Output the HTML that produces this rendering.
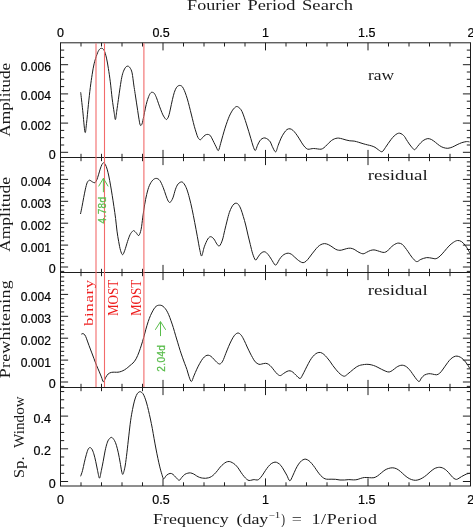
<!DOCTYPE html>
<html><head><meta charset="utf-8"><style>
html,body{margin:0;padding:0;background:#fff;}
svg{display:block;will-change:transform;}
.fr{stroke:#1e1e1e;stroke-width:1;fill:none;}
.tk{stroke:#1e1e1e;stroke-width:1;fill:none;}
.cv{stroke:#1c1c1c;stroke-width:1.0;fill:none;stroke-linejoin:round;}
.rl{stroke:#f26b6b;stroke-width:1.1;}
.num{font-family:"Liberation Sans",sans-serif;font-size:12.5px;fill:#000;stroke:#000;stroke-width:0.2px;}
.ser{font-family:"Liberation Serif",serif;}
.gnum{font-family:"Liberation Sans",sans-serif;stroke:#58bc4a;stroke-width:0.25px;}
.ga{stroke:#58bc4a;stroke-width:1.0;fill:none;}
</style></head><body>
<svg width="473" height="527" viewBox="0 0 473 527">
<line x1="60.50" y1="42.80" x2="60.50" y2="486.00" class="fr"/>
<line x1="470.50" y1="42.80" x2="470.50" y2="486.00" class="fr"/>
<line x1="60.00" y1="42.80" x2="471.00" y2="42.80" class="fr"/>
<line x1="60.00" y1="486.00" x2="471.00" y2="486.00" class="fr"/>
<line x1="60.50" y1="157.50" x2="470.50" y2="157.50" class="fr"/>
<line x1="60.50" y1="272.50" x2="470.50" y2="272.50" class="fr"/>
<line x1="60.50" y1="387.50" x2="470.50" y2="387.50" class="fr"/>
<path class="tk" d="M81.00,42.80v3.70 M81.00,157.50v-3.70 M101.50,42.80v3.70 M101.50,157.50v-3.70 M122.00,42.80v3.70 M122.00,157.50v-3.70 M142.50,42.80v3.70 M142.50,157.50v-3.70 M163.00,42.80v7.60 M163.00,157.50v-7.60 M183.50,42.80v3.70 M183.50,157.50v-3.70 M204.00,42.80v3.70 M204.00,157.50v-3.70 M224.50,42.80v3.70 M224.50,157.50v-3.70 M245.00,42.80v3.70 M245.00,157.50v-3.70 M265.50,42.80v7.60 M265.50,157.50v-7.60 M286.00,42.80v3.70 M286.00,157.50v-3.70 M306.50,42.80v3.70 M306.50,157.50v-3.70 M327.00,42.80v3.70 M327.00,157.50v-3.70 M347.50,42.80v3.70 M347.50,157.50v-3.70 M368.00,42.80v7.60 M368.00,157.50v-7.60 M388.50,42.80v3.70 M388.50,157.50v-3.70 M409.00,42.80v3.70 M409.00,157.50v-3.70 M429.50,42.80v3.70 M429.50,157.50v-3.70 M450.00,42.80v3.70 M450.00,157.50v-3.70 M81.00,157.50v3.70 M81.00,272.50v-3.70 M101.50,157.50v3.70 M101.50,272.50v-3.70 M122.00,157.50v3.70 M122.00,272.50v-3.70 M142.50,157.50v3.70 M142.50,272.50v-3.70 M163.00,157.50v7.60 M163.00,272.50v-7.60 M183.50,157.50v3.70 M183.50,272.50v-3.70 M204.00,157.50v3.70 M204.00,272.50v-3.70 M224.50,157.50v3.70 M224.50,272.50v-3.70 M245.00,157.50v3.70 M245.00,272.50v-3.70 M265.50,157.50v7.60 M265.50,272.50v-7.60 M286.00,157.50v3.70 M286.00,272.50v-3.70 M306.50,157.50v3.70 M306.50,272.50v-3.70 M327.00,157.50v3.70 M327.00,272.50v-3.70 M347.50,157.50v3.70 M347.50,272.50v-3.70 M368.00,157.50v7.60 M368.00,272.50v-7.60 M388.50,157.50v3.70 M388.50,272.50v-3.70 M409.00,157.50v3.70 M409.00,272.50v-3.70 M429.50,157.50v3.70 M429.50,272.50v-3.70 M450.00,157.50v3.70 M450.00,272.50v-3.70 M81.00,272.50v3.70 M81.00,387.50v-3.70 M101.50,272.50v3.70 M101.50,387.50v-3.70 M122.00,272.50v3.70 M122.00,387.50v-3.70 M142.50,272.50v3.70 M142.50,387.50v-3.70 M163.00,272.50v7.60 M163.00,387.50v-7.60 M183.50,272.50v3.70 M183.50,387.50v-3.70 M204.00,272.50v3.70 M204.00,387.50v-3.70 M224.50,272.50v3.70 M224.50,387.50v-3.70 M245.00,272.50v3.70 M245.00,387.50v-3.70 M265.50,272.50v7.60 M265.50,387.50v-7.60 M286.00,272.50v3.70 M286.00,387.50v-3.70 M306.50,272.50v3.70 M306.50,387.50v-3.70 M327.00,272.50v3.70 M327.00,387.50v-3.70 M347.50,272.50v3.70 M347.50,387.50v-3.70 M368.00,272.50v7.60 M368.00,387.50v-7.60 M388.50,272.50v3.70 M388.50,387.50v-3.70 M409.00,272.50v3.70 M409.00,387.50v-3.70 M429.50,272.50v3.70 M429.50,387.50v-3.70 M450.00,272.50v3.70 M450.00,387.50v-3.70 M81.00,387.50v3.70 M81.00,486.00v-3.70 M101.50,387.50v3.70 M101.50,486.00v-3.70 M122.00,387.50v3.70 M122.00,486.00v-3.70 M142.50,387.50v3.70 M142.50,486.00v-3.70 M163.00,387.50v7.60 M163.00,486.00v-7.60 M183.50,387.50v3.70 M183.50,486.00v-3.70 M204.00,387.50v3.70 M204.00,486.00v-3.70 M224.50,387.50v3.70 M224.50,486.00v-3.70 M245.00,387.50v3.70 M245.00,486.00v-3.70 M265.50,387.50v7.60 M265.50,486.00v-7.60 M286.00,387.50v3.70 M286.00,486.00v-3.70 M306.50,387.50v3.70 M306.50,486.00v-3.70 M327.00,387.50v3.70 M327.00,486.00v-3.70 M347.50,387.50v3.70 M347.50,486.00v-3.70 M368.00,387.50v7.60 M368.00,486.00v-7.60 M388.50,387.50v3.70 M388.50,486.00v-3.70 M409.00,387.50v3.70 M409.00,486.00v-3.70 M429.50,387.50v3.70 M429.50,486.00v-3.70 M450.00,387.50v3.70 M450.00,486.00v-3.70 M60.50,152.30h7.60 M470.50,152.30h-7.60 M60.50,145.00h3.70 M470.50,145.00h-3.70 M60.50,137.70h3.70 M470.50,137.70h-3.70 M60.50,130.40h3.70 M470.50,130.40h-3.70 M60.50,123.10h7.60 M470.50,123.10h-7.60 M60.50,115.80h3.70 M470.50,115.80h-3.70 M60.50,108.50h3.70 M470.50,108.50h-3.70 M60.50,101.20h3.70 M470.50,101.20h-3.70 M60.50,93.90h7.60 M470.50,93.90h-7.60 M60.50,86.60h3.70 M470.50,86.60h-3.70 M60.50,79.30h3.70 M470.50,79.30h-3.70 M60.50,72.00h3.70 M470.50,72.00h-3.70 M60.50,64.70h7.60 M470.50,64.70h-7.60 M60.50,57.40h3.70 M470.50,57.40h-3.70 M60.50,50.10h3.70 M470.50,50.10h-3.70 M60.50,271.38h3.70 M470.50,271.38h-3.70 M60.50,267.00h7.60 M470.50,267.00h-7.60 M60.50,262.62h3.70 M470.50,262.62h-3.70 M60.50,258.24h3.70 M470.50,258.24h-3.70 M60.50,253.86h3.70 M470.50,253.86h-3.70 M60.50,249.48h3.70 M470.50,249.48h-3.70 M60.50,245.10h7.60 M470.50,245.10h-7.60 M60.50,240.72h3.70 M470.50,240.72h-3.70 M60.50,236.34h3.70 M470.50,236.34h-3.70 M60.50,231.96h3.70 M470.50,231.96h-3.70 M60.50,227.58h3.70 M470.50,227.58h-3.70 M60.50,223.20h7.60 M470.50,223.20h-7.60 M60.50,218.82h3.70 M470.50,218.82h-3.70 M60.50,214.44h3.70 M470.50,214.44h-3.70 M60.50,210.06h3.70 M470.50,210.06h-3.70 M60.50,205.68h3.70 M470.50,205.68h-3.70 M60.50,201.30h7.60 M470.50,201.30h-7.60 M60.50,196.92h3.70 M470.50,196.92h-3.70 M60.50,192.54h3.70 M470.50,192.54h-3.70 M60.50,188.16h3.70 M470.50,188.16h-3.70 M60.50,183.78h3.70 M470.50,183.78h-3.70 M60.50,179.40h7.60 M470.50,179.40h-7.60 M60.50,175.02h3.70 M470.50,175.02h-3.70 M60.50,170.64h3.70 M470.50,170.64h-3.70 M60.50,166.26h3.70 M470.50,166.26h-3.70 M60.50,161.88h3.70 M470.50,161.88h-3.70 M60.50,386.38h3.70 M470.50,386.38h-3.70 M60.50,382.00h7.60 M470.50,382.00h-7.60 M60.50,377.62h3.70 M470.50,377.62h-3.70 M60.50,373.24h3.70 M470.50,373.24h-3.70 M60.50,368.86h3.70 M470.50,368.86h-3.70 M60.50,364.48h3.70 M470.50,364.48h-3.70 M60.50,360.10h7.60 M470.50,360.10h-7.60 M60.50,355.72h3.70 M470.50,355.72h-3.70 M60.50,351.34h3.70 M470.50,351.34h-3.70 M60.50,346.96h3.70 M470.50,346.96h-3.70 M60.50,342.58h3.70 M470.50,342.58h-3.70 M60.50,338.20h7.60 M470.50,338.20h-7.60 M60.50,333.82h3.70 M470.50,333.82h-3.70 M60.50,329.44h3.70 M470.50,329.44h-3.70 M60.50,325.06h3.70 M470.50,325.06h-3.70 M60.50,320.68h3.70 M470.50,320.68h-3.70 M60.50,316.30h7.60 M470.50,316.30h-7.60 M60.50,311.92h3.70 M470.50,311.92h-3.70 M60.50,307.54h3.70 M470.50,307.54h-3.70 M60.50,303.16h3.70 M470.50,303.16h-3.70 M60.50,298.78h3.70 M470.50,298.78h-3.70 M60.50,294.40h7.60 M470.50,294.40h-7.60 M60.50,290.02h3.70 M470.50,290.02h-3.70 M60.50,285.64h3.70 M470.50,285.64h-3.70 M60.50,281.26h3.70 M470.50,281.26h-3.70 M60.50,276.88h3.70 M470.50,276.88h-3.70 M60.50,481.50h7.60 M470.50,481.50h-7.60 M60.50,473.32h3.70 M470.50,473.32h-3.70 M60.50,465.15h3.70 M470.50,465.15h-3.70 M60.50,456.98h3.70 M470.50,456.98h-3.70 M60.50,448.80h7.60 M470.50,448.80h-7.60 M60.50,440.62h3.70 M470.50,440.62h-3.70 M60.50,432.45h3.70 M470.50,432.45h-3.70 M60.50,424.27h3.70 M470.50,424.27h-3.70 M60.50,416.10h7.60 M470.50,416.10h-7.60 M60.50,407.93h3.70 M470.50,407.93h-3.70 M60.50,399.75h3.70 M470.50,399.75h-3.70 M60.50,391.57h3.70 M470.50,391.57h-3.70"/>
<path class="cv" d="M80.70,92.30 C81.03,95.30 81.98,103.67 82.70,110.30 C83.42,116.93 84.37,129.88 85.00,132.10 C85.63,134.32 85.93,128.18 86.50,123.60 C87.07,119.02 87.77,110.62 88.40,104.60 C89.03,98.58 89.67,92.55 90.30,87.50 C90.93,82.45 91.57,78.25 92.20,74.30 C92.83,70.35 93.30,67.13 94.10,63.80 C94.90,60.47 96.13,56.67 97.00,54.30 C97.87,51.93 98.52,50.60 99.30,49.60 C100.08,48.60 100.88,48.15 101.70,48.30 C102.52,48.45 103.40,48.87 104.20,50.50 C105.00,52.13 105.80,55.08 106.50,58.10 C107.20,61.12 107.77,64.65 108.40,68.60 C109.03,72.55 109.67,76.75 110.30,81.80 C110.93,86.85 111.57,93.83 112.20,98.90 C112.83,103.97 113.57,108.75 114.10,112.20 C114.63,115.65 114.97,119.73 115.40,119.60 C115.83,119.47 116.20,114.77 116.70,111.40 C117.20,108.03 117.83,103.40 118.40,99.40 C118.97,95.40 119.53,91.10 120.10,87.40 C120.67,83.70 121.23,79.90 121.80,77.20 C122.37,74.50 122.87,72.85 123.50,71.20 C124.13,69.55 124.88,68.15 125.60,67.30 C126.32,66.45 127.07,66.02 127.80,66.10 C128.53,66.18 129.28,66.67 130.00,67.80 C130.72,68.93 131.47,70.03 132.10,72.90 C132.73,75.77 133.30,81.57 133.80,85.00 C134.30,88.43 134.67,90.65 135.10,93.50 C135.53,96.35 135.97,99.25 136.40,102.10 C136.83,104.95 137.27,107.75 137.70,110.60 C138.13,113.45 138.57,116.77 139.00,119.20 C139.43,121.63 139.80,124.42 140.30,125.20 C140.80,125.98 141.43,125.33 142.00,123.90 C142.57,122.47 143.13,119.23 143.70,116.60 C144.27,113.97 144.83,110.67 145.40,108.10 C145.97,105.53 146.47,103.33 147.10,101.20 C147.73,99.07 148.57,96.72 149.20,95.30 C149.83,93.88 150.37,93.20 150.90,92.70 C151.43,92.20 151.82,92.17 152.40,92.30 C152.98,92.43 153.72,92.58 154.40,93.50 C155.08,94.42 155.80,96.08 156.50,97.80 C157.20,99.52 157.88,101.80 158.60,103.80 C159.32,105.80 160.08,107.95 160.80,109.80 C161.52,111.65 162.13,113.40 162.90,114.90 C163.67,116.40 164.73,118.07 165.40,118.80 C166.07,119.53 166.35,119.77 166.90,119.30 C167.45,118.83 168.12,117.72 168.70,116.00 C169.28,114.28 169.78,111.72 170.40,109.00 C171.02,106.28 171.75,102.47 172.40,99.70 C173.05,96.93 173.65,94.38 174.30,92.40 C174.95,90.42 175.63,88.90 176.30,87.80 C176.97,86.70 177.63,86.18 178.30,85.80 C178.97,85.42 179.63,85.35 180.30,85.50 C180.97,85.65 181.63,85.88 182.30,86.70 C182.97,87.52 183.63,88.90 184.30,90.40 C184.97,91.90 185.63,93.70 186.30,95.70 C186.97,97.70 187.63,99.97 188.30,102.40 C188.97,104.83 189.63,107.65 190.30,110.30 C190.97,112.95 191.63,115.63 192.30,118.30 C192.97,120.97 193.63,123.87 194.30,126.30 C194.97,128.73 195.68,131.02 196.30,132.90 C196.92,134.78 197.33,136.45 198.00,137.60 C198.67,138.75 199.52,139.83 200.30,139.80 C201.08,139.77 201.88,138.18 202.70,137.40 C203.52,136.62 204.35,135.60 205.20,135.10 C206.05,134.60 206.92,134.27 207.80,134.40 C208.68,134.53 209.48,134.57 210.50,135.90 C211.52,137.23 212.97,140.58 213.90,142.40 C214.83,144.22 215.35,145.45 216.10,146.80 C216.85,148.15 217.63,151.08 218.40,150.50 C219.17,149.92 219.97,145.77 220.70,143.30 C221.43,140.83 222.08,138.22 222.80,135.70 C223.52,133.18 224.27,130.53 225.00,128.20 C225.73,125.87 226.48,123.70 227.20,121.70 C227.92,119.70 228.58,117.83 229.30,116.20 C230.02,114.57 230.77,113.15 231.50,111.90 C232.23,110.65 232.83,109.60 233.70,108.70 C234.57,107.80 235.68,106.57 236.70,106.50 C237.72,106.43 238.92,107.47 239.80,108.30 C240.68,109.13 241.27,110.02 242.00,111.50 C242.73,112.98 243.47,115.13 244.20,117.20 C244.93,119.27 245.65,121.55 246.40,123.90 C247.15,126.25 247.95,128.83 248.70,131.30 C249.45,133.77 250.17,136.23 250.90,138.70 C251.63,141.17 252.37,144.13 253.10,146.10 C253.83,148.07 254.57,150.63 255.30,150.50 C256.03,150.37 256.75,146.90 257.50,145.30 C258.25,143.70 259.05,142.00 259.80,140.90 C260.55,139.80 261.15,139.20 262.00,138.70 C262.85,138.20 263.92,137.78 264.90,137.90 C265.88,138.02 266.98,138.72 267.90,139.40 C268.82,140.08 269.68,140.85 270.40,142.00 C271.12,143.15 271.33,144.65 272.20,146.30 C273.07,147.95 274.62,152.03 275.60,151.90 C276.58,151.77 277.18,147.80 278.10,145.50 C279.02,143.20 280.10,140.20 281.10,138.10 C282.10,136.00 283.12,134.33 284.10,132.90 C285.08,131.47 286.02,130.18 287.00,129.50 C287.98,128.82 289.02,128.67 290.00,128.80 C290.98,128.93 291.92,129.48 292.90,130.30 C293.88,131.12 294.90,132.40 295.90,133.70 C296.90,135.00 297.92,136.57 298.90,138.10 C299.88,139.63 300.82,141.42 301.80,142.90 C302.78,144.38 303.82,145.95 304.80,147.00 C305.78,148.05 306.72,148.88 307.70,149.20 C308.68,149.52 309.70,149.02 310.70,148.90 C311.70,148.78 312.58,148.50 313.70,148.50 C314.82,148.50 316.17,148.78 317.40,148.90 C318.63,149.02 320.00,149.40 321.10,149.20 C322.20,149.00 323.02,148.43 324.00,147.70 C324.98,146.97 326.00,145.78 327.00,144.80 C328.00,143.82 329.02,142.67 330.00,141.80 C330.98,140.93 331.92,140.17 332.90,139.60 C333.88,139.03 334.93,138.65 335.90,138.40 C336.87,138.15 337.62,138.02 338.70,138.10 C339.78,138.18 341.17,138.58 342.40,138.90 C343.63,139.22 344.87,139.68 346.10,140.00 C347.33,140.32 348.45,140.62 349.80,140.80 C351.15,140.98 352.72,140.85 354.20,141.10 C355.68,141.35 357.22,141.87 358.70,142.30 C360.18,142.73 361.62,143.27 363.10,143.70 C364.58,144.13 366.23,144.55 367.60,144.90 C368.97,145.25 370.07,145.40 371.30,145.80 C372.53,146.20 373.77,146.60 375.00,147.30 C376.23,148.00 377.52,149.27 378.70,150.00 C379.88,150.73 381.00,152.08 382.10,151.70 C383.20,151.32 384.27,149.10 385.30,147.70 C386.33,146.30 387.32,144.70 388.30,143.30 C389.28,141.90 390.22,140.53 391.20,139.30 C392.18,138.07 393.20,136.83 394.20,135.90 C395.20,134.97 396.28,134.15 397.20,133.70 C398.12,133.25 398.85,133.08 399.70,133.20 C400.55,133.32 401.48,133.83 402.30,134.40 C403.12,134.97 403.95,135.78 404.60,136.60 C405.25,137.42 405.42,138.07 406.20,139.30 C406.98,140.53 408.28,142.58 409.30,144.00 C410.32,145.42 411.40,146.85 412.30,147.80 C413.20,148.75 413.80,149.95 414.70,149.70 C415.60,149.45 416.68,147.47 417.70,146.30 C418.72,145.13 419.77,143.73 420.80,142.70 C421.83,141.67 422.73,140.78 423.90,140.10 C425.07,139.42 426.52,138.68 427.80,138.60 C429.08,138.52 430.32,138.97 431.60,139.60 C432.88,140.23 434.20,141.42 435.50,142.40 C436.80,143.38 438.12,144.65 439.40,145.50 C440.68,146.35 441.80,147.03 443.20,147.50 C444.60,147.97 446.25,148.38 447.80,148.30 C449.35,148.22 450.95,147.60 452.50,147.00 C454.05,146.40 455.57,145.42 457.10,144.70 C458.63,143.98 460.15,143.22 461.70,142.70 C463.25,142.18 465.10,141.73 466.40,141.60 C467.70,141.47 468.98,141.85 469.50,141.90"/>
<path class="cv" d="M80.50,214.00 C80.75,212.78 81.47,209.43 82.00,206.70 C82.53,203.97 83.13,200.53 83.70,197.60 C84.27,194.67 84.83,191.57 85.40,189.10 C85.97,186.63 86.53,184.23 87.10,182.80 C87.67,181.37 88.32,180.92 88.80,180.50 C89.28,180.08 89.52,180.15 90.00,180.30 C90.48,180.45 91.13,181.05 91.70,181.40 C92.27,181.75 92.83,182.20 93.40,182.40 C93.97,182.60 94.53,183.02 95.10,182.60 C95.67,182.18 96.23,181.20 96.80,179.90 C97.37,178.60 97.93,176.60 98.50,174.80 C99.07,173.00 99.63,170.80 100.20,169.10 C100.77,167.40 101.33,165.65 101.90,164.60 C102.47,163.55 103.02,162.80 103.60,162.80 C104.18,162.80 104.82,163.55 105.40,164.60 C105.98,165.65 106.53,167.20 107.10,169.10 C107.67,171.00 108.23,173.33 108.80,176.00 C109.37,178.67 109.93,181.88 110.50,185.10 C111.07,188.32 111.63,191.73 112.20,195.30 C112.77,198.87 113.33,202.63 113.90,206.50 C114.47,210.37 115.08,214.40 115.60,218.50 C116.12,222.60 116.48,227.25 117.00,231.10 C117.52,234.95 118.12,238.40 118.70,241.60 C119.28,244.80 119.85,248.12 120.50,250.30 C121.15,252.48 121.88,254.70 122.60,254.70 C123.32,254.70 123.98,252.48 124.80,250.30 C125.62,248.12 126.62,244.22 127.50,241.60 C128.38,238.98 129.23,236.35 130.10,234.60 C130.97,232.85 132.03,231.73 132.70,231.10 C133.37,230.47 133.52,230.52 134.10,230.80 C134.68,231.08 135.42,232.02 136.20,232.80 C136.98,233.58 137.98,236.07 138.80,235.50 C139.62,234.93 140.43,232.47 141.10,229.40 C141.77,226.33 142.22,221.18 142.80,217.10 C143.38,213.02 143.95,208.68 144.60,204.90 C145.25,201.12 145.92,197.60 146.70,194.40 C147.48,191.20 148.28,188.08 149.30,185.70 C150.32,183.32 151.63,181.32 152.80,180.10 C153.97,178.88 155.13,178.33 156.30,178.40 C157.47,178.47 158.65,178.98 159.80,180.50 C160.95,182.02 162.18,185.03 163.20,187.50 C164.22,189.97 165.07,193.05 165.90,195.30 C166.73,197.55 167.48,199.83 168.20,201.00 C168.92,202.17 169.42,202.82 170.20,202.30 C170.98,201.78 172.02,200.08 172.90,197.90 C173.78,195.72 174.63,191.52 175.50,189.20 C176.37,186.88 177.08,185.22 178.10,184.00 C179.12,182.78 180.58,181.90 181.60,181.90 C182.62,181.90 183.33,182.78 184.20,184.00 C185.07,185.22 185.93,186.88 186.80,189.20 C187.67,191.52 188.52,194.55 189.40,197.90 C190.28,201.25 191.22,205.22 192.10,209.30 C192.98,213.38 193.83,217.90 194.70,222.40 C195.57,226.90 196.43,231.65 197.30,236.30 C198.17,240.95 199.17,247.03 199.90,250.30 C200.63,253.57 200.97,256.48 201.70,255.90 C202.43,255.32 203.28,249.62 204.30,246.80 C205.32,243.98 206.73,240.68 207.80,239.00 C208.87,237.32 209.68,236.70 210.70,236.70 C211.72,236.70 212.85,237.75 213.90,239.00 C214.95,240.25 216.07,243.05 217.00,244.20 C217.93,245.35 218.60,246.60 219.50,245.90 C220.40,245.20 221.53,242.57 222.40,240.00 C223.27,237.43 223.93,233.65 224.70,230.50 C225.47,227.35 226.23,224.08 227.00,221.10 C227.77,218.12 228.52,214.93 229.30,212.60 C230.08,210.27 230.92,208.53 231.70,207.10 C232.48,205.67 233.23,204.65 234.00,204.00 C234.77,203.35 235.52,203.07 236.30,203.20 C237.08,203.33 237.92,203.77 238.70,204.80 C239.48,205.83 240.23,207.45 241.00,209.40 C241.77,211.35 242.52,213.90 243.30,216.50 C244.08,219.10 244.92,221.90 245.70,225.00 C246.48,228.10 247.23,231.85 248.00,235.10 C248.77,238.35 249.52,241.38 250.30,244.50 C251.08,247.62 251.83,251.22 252.70,253.80 C253.57,256.38 254.60,259.48 255.50,260.00 C256.40,260.52 257.15,258.07 258.10,256.90 C259.05,255.73 260.08,253.85 261.20,253.00 C262.32,252.15 263.63,251.53 264.80,251.80 C265.97,252.07 267.12,253.37 268.20,254.60 C269.28,255.83 270.13,257.47 271.30,259.20 C272.47,260.93 274.18,264.35 275.20,265.00 C276.22,265.65 276.70,264.03 277.40,263.10 C278.10,262.17 278.57,260.63 279.40,259.40 C280.23,258.17 281.40,256.63 282.40,255.70 C283.40,254.77 284.42,254.22 285.40,253.80 C286.38,253.38 287.32,253.13 288.30,253.20 C289.28,253.27 290.32,253.62 291.30,254.20 C292.28,254.78 293.22,255.83 294.20,256.70 C295.18,257.57 296.20,258.58 297.20,259.40 C298.20,260.22 299.22,261.05 300.20,261.60 C301.18,262.15 302.12,262.77 303.10,262.70 C304.08,262.63 305.12,262.00 306.10,261.20 C307.08,260.40 308.02,259.12 309.00,257.90 C309.98,256.68 311.00,255.20 312.00,253.90 C313.00,252.60 314.02,251.28 315.00,250.10 C315.98,248.92 316.92,247.72 317.90,246.80 C318.88,245.88 319.78,245.13 320.90,244.60 C322.02,244.07 323.37,243.60 324.60,243.60 C325.83,243.60 327.07,244.07 328.30,244.60 C329.53,245.13 330.77,246.02 332.00,246.80 C333.23,247.58 334.60,248.73 335.70,249.30 C336.80,249.87 337.62,250.07 338.60,250.20 C339.58,250.33 340.25,250.37 341.60,250.10 C342.95,249.83 345.23,248.92 346.70,248.60 C348.17,248.28 349.17,248.08 350.40,248.20 C351.63,248.32 352.87,248.72 354.10,249.30 C355.33,249.88 356.33,250.95 357.80,251.70 C359.27,252.45 361.43,253.70 362.90,253.80 C364.37,253.90 365.37,252.85 366.60,252.30 C367.83,251.75 369.07,250.90 370.30,250.50 C371.53,250.10 372.77,249.85 374.00,249.90 C375.23,249.95 376.47,250.45 377.70,250.80 C378.93,251.15 380.28,251.73 381.40,252.00 C382.52,252.27 383.40,252.57 384.40,252.40 C385.40,252.23 386.42,251.75 387.40,251.00 C388.38,250.25 389.32,248.85 390.30,247.90 C391.28,246.95 392.32,246.02 393.30,245.30 C394.28,244.58 395.27,243.97 396.20,243.60 C397.13,243.23 397.90,242.98 398.90,243.10 C399.90,243.22 401.17,243.55 402.20,244.30 C403.23,245.05 404.12,246.37 405.10,247.60 C406.08,248.83 406.97,250.10 408.10,251.70 C409.23,253.30 410.48,255.55 411.90,257.20 C413.32,258.85 415.12,261.23 416.60,261.60 C418.08,261.97 419.12,260.07 420.80,259.40 C422.48,258.73 424.85,257.80 426.70,257.60 C428.55,257.40 430.37,258.02 431.90,258.20 C433.43,258.38 434.55,259.05 435.90,258.70 C437.25,258.35 438.58,257.33 440.00,256.10 C441.42,254.87 442.92,252.97 444.40,251.30 C445.88,249.63 447.42,247.58 448.90,246.10 C450.38,244.62 451.87,243.33 453.30,242.40 C454.73,241.47 456.13,240.63 457.50,240.50 C458.87,240.37 460.22,240.80 461.50,241.60 C462.78,242.40 464.10,243.93 465.20,245.30 C466.30,246.67 467.32,248.48 468.10,249.80 C468.88,251.12 469.60,252.63 469.90,253.20"/>
<path class="cv" d="M81.30,334.20 C81.57,334.10 82.30,333.47 82.90,333.60 C83.50,333.73 84.28,334.13 84.90,335.00 C85.52,335.87 85.92,337.05 86.60,338.80 C87.28,340.55 88.18,343.28 89.00,345.50 C89.82,347.72 90.67,349.90 91.50,352.10 C92.33,354.30 93.17,356.50 94.00,358.70 C94.83,360.90 95.67,363.23 96.50,365.30 C97.33,367.37 98.18,369.17 99.00,371.10 C99.82,373.03 100.67,375.12 101.40,376.90 C102.13,378.68 102.70,381.67 103.40,381.80 C104.10,381.93 104.82,379.00 105.60,377.70 C106.38,376.40 107.13,374.88 108.10,374.00 C109.07,373.12 110.30,372.70 111.40,372.40 C112.50,372.10 113.60,372.23 114.70,372.20 C115.80,372.17 116.90,372.33 118.00,372.20 C119.10,372.07 120.20,371.80 121.30,371.40 C122.40,371.00 123.50,370.47 124.60,369.80 C125.70,369.13 127.00,368.12 127.90,367.40 C128.80,366.68 129.15,366.23 130.00,365.50 C130.85,364.77 131.98,364.12 133.00,363.00 C134.02,361.88 135.08,360.65 136.10,358.80 C137.12,356.95 138.22,354.18 139.10,351.90 C139.98,349.62 140.63,347.50 141.40,345.10 C142.17,342.70 142.95,340.15 143.70,337.50 C144.45,334.85 145.15,331.85 145.90,329.20 C146.65,326.55 147.43,323.88 148.20,321.60 C148.97,319.32 149.73,317.28 150.50,315.50 C151.27,313.72 152.05,312.25 152.80,310.90 C153.55,309.55 154.25,308.28 155.00,307.40 C155.75,306.52 156.53,305.97 157.30,305.60 C158.07,305.23 158.83,305.20 159.60,305.20 C160.37,305.20 161.13,305.23 161.90,305.60 C162.67,305.97 163.45,306.63 164.20,307.40 C164.95,308.17 165.65,308.98 166.40,310.20 C167.15,311.42 167.93,312.93 168.70,314.70 C169.47,316.47 170.23,318.65 171.00,320.80 C171.77,322.95 172.55,325.20 173.30,327.60 C174.05,330.00 174.75,332.67 175.50,335.20 C176.25,337.73 177.03,340.27 177.80,342.80 C178.57,345.33 179.33,348.00 180.10,350.40 C180.87,352.80 181.65,355.05 182.40,357.20 C183.15,359.35 183.85,361.27 184.60,363.30 C185.35,365.33 186.17,367.20 186.90,369.40 C187.63,371.60 188.25,374.48 189.00,376.50 C189.75,378.52 190.58,381.60 191.40,381.50 C192.22,381.40 193.00,377.95 193.90,375.90 C194.80,373.85 195.82,371.30 196.80,369.20 C197.78,367.10 198.80,365.07 199.80,363.30 C200.80,361.53 201.82,359.83 202.80,358.60 C203.78,357.37 204.80,356.47 205.70,355.90 C206.60,355.33 207.33,355.13 208.20,355.20 C209.07,355.27 209.95,355.63 210.90,356.30 C211.85,356.97 212.92,358.20 213.90,359.20 C214.88,360.20 215.82,361.50 216.80,362.30 C217.78,363.10 218.82,364.20 219.80,364.00 C220.78,363.80 221.72,362.82 222.70,361.10 C223.68,359.38 224.70,356.17 225.70,353.70 C226.70,351.23 227.72,348.57 228.70,346.30 C229.68,344.03 230.62,341.95 231.60,340.10 C232.58,338.25 233.53,336.38 234.60,335.20 C235.67,334.02 236.90,333.00 238.00,333.00 C239.10,333.00 240.17,333.97 241.20,335.20 C242.23,336.43 243.20,338.43 244.20,340.40 C245.20,342.37 246.22,344.90 247.20,347.00 C248.18,349.10 249.22,351.25 250.10,353.00 C250.98,354.75 251.65,356.03 252.50,357.50 C253.35,358.97 254.13,360.67 255.20,361.80 C256.27,362.93 257.80,363.93 258.90,364.30 C260.00,364.67 260.70,364.17 261.80,364.00 C262.90,363.83 264.38,363.25 265.50,363.30 C266.62,363.35 267.50,363.68 268.50,364.30 C269.50,364.92 270.52,365.93 271.50,367.00 C272.48,368.07 273.42,369.52 274.40,370.70 C275.38,371.88 276.42,373.28 277.40,374.10 C278.38,374.92 279.32,375.67 280.30,375.60 C281.28,375.53 282.18,374.40 283.30,373.70 C284.42,373.00 285.88,371.88 287.00,371.40 C288.12,370.92 289.02,370.67 290.00,370.80 C290.98,370.93 291.92,371.48 292.90,372.20 C293.88,372.92 294.72,374.05 295.90,375.10 C297.08,376.15 298.90,378.50 300.00,378.50 C301.10,378.50 301.58,376.65 302.50,375.10 C303.42,373.55 304.50,371.17 305.50,369.20 C306.50,367.23 307.52,365.10 308.50,363.30 C309.48,361.50 310.42,359.80 311.40,358.40 C312.38,357.00 313.42,355.82 314.40,354.90 C315.38,353.98 316.27,353.30 317.30,352.90 C318.33,352.50 319.50,352.25 320.60,352.50 C321.70,352.75 322.87,353.58 323.90,354.40 C324.93,355.22 325.82,356.28 326.80,357.40 C327.78,358.52 328.80,359.75 329.80,361.10 C330.80,362.45 331.82,364.15 332.80,365.50 C333.78,366.85 334.72,368.02 335.70,369.20 C336.68,370.38 337.72,371.62 338.70,372.60 C339.68,373.58 340.62,374.50 341.60,375.10 C342.58,375.70 343.60,376.37 344.60,376.20 C345.60,376.03 346.62,374.85 347.60,374.10 C348.58,373.35 349.52,372.52 350.50,371.70 C351.48,370.88 352.52,369.98 353.50,369.20 C354.48,368.42 355.42,367.62 356.40,367.00 C357.38,366.38 358.40,365.87 359.40,365.50 C360.40,365.13 361.17,365.00 362.40,364.80 C363.63,364.60 365.33,364.30 366.80,364.30 C368.27,364.30 369.72,364.47 371.20,364.80 C372.68,365.13 374.23,365.68 375.70,366.30 C377.17,366.92 378.78,367.88 380.00,368.50 C381.22,369.12 382.02,369.53 383.00,370.00 C383.98,370.47 384.87,370.97 385.90,371.30 C386.93,371.63 388.08,372.17 389.20,372.00 C390.32,371.83 391.42,371.07 392.60,370.30 C393.78,369.53 395.20,368.15 396.30,367.40 C397.40,366.65 398.22,366.17 399.20,365.80 C400.18,365.43 401.20,365.17 402.20,365.20 C403.20,365.23 404.22,365.50 405.20,366.00 C406.18,366.50 407.12,367.25 408.10,368.20 C409.08,369.15 410.12,370.42 411.10,371.70 C412.08,372.98 412.72,374.27 414.00,375.90 C415.28,377.53 417.57,381.13 418.80,381.50 C420.03,381.87 420.47,379.17 421.40,378.10 C422.33,377.03 423.17,375.83 424.40,375.10 C425.63,374.37 427.45,373.87 428.80,373.70 C430.15,373.53 431.20,373.92 432.50,374.10 C433.80,374.28 435.40,374.95 436.60,374.80 C437.80,374.65 438.73,374.00 439.70,373.20 C440.67,372.40 441.50,371.17 442.40,370.00 C443.30,368.83 444.20,367.47 445.10,366.20 C446.00,364.93 446.90,363.57 447.80,362.40 C448.70,361.23 449.50,360.13 450.50,359.20 C451.50,358.27 452.72,357.32 453.80,356.80 C454.88,356.28 455.92,356.03 457.00,356.10 C458.08,356.17 459.30,356.68 460.30,357.20 C461.30,357.72 462.10,358.37 463.00,359.20 C463.90,360.03 464.90,361.22 465.70,362.20 C466.50,363.18 467.12,364.07 467.80,365.10 C468.48,366.13 469.47,367.85 469.80,368.40"/>
<path class="cv" d="M80.60,476.30 C80.92,475.37 81.87,473.05 82.50,470.70 C83.13,468.35 83.77,464.87 84.40,462.20 C85.03,459.53 85.67,456.88 86.30,454.70 C86.93,452.52 87.58,450.28 88.20,449.10 C88.82,447.92 89.38,447.60 90.00,447.60 C90.62,447.60 91.27,448.07 91.90,449.10 C92.53,450.13 93.17,451.77 93.80,453.80 C94.43,455.83 95.07,458.48 95.70,461.30 C96.33,464.12 96.97,467.88 97.60,470.70 C98.23,473.52 98.88,478.20 99.50,478.20 C100.12,478.20 100.68,473.52 101.30,470.70 C101.92,467.88 102.57,464.60 103.20,461.30 C103.83,458.00 104.47,453.88 105.10,450.90 C105.73,447.92 106.37,445.33 107.00,443.40 C107.63,441.47 108.12,440.30 108.90,439.30 C109.68,438.30 110.77,437.18 111.70,437.40 C112.63,437.62 113.72,439.28 114.50,440.60 C115.28,441.92 115.77,443.27 116.40,445.30 C117.03,447.33 117.68,449.98 118.30,452.80 C118.92,455.62 119.55,459.17 120.10,462.20 C120.65,465.23 121.17,468.97 121.60,471.00 C122.03,473.03 122.32,474.32 122.70,474.40 C123.08,474.48 123.47,473.07 123.90,471.50 C124.33,469.93 124.80,468.12 125.30,465.00 C125.80,461.88 126.32,457.65 126.90,452.80 C127.48,447.95 128.18,441.23 128.80,435.90 C129.42,430.57 129.98,425.18 130.60,420.80 C131.22,416.42 131.87,412.88 132.50,409.60 C133.13,406.32 133.77,403.45 134.40,401.10 C135.03,398.75 135.67,396.92 136.30,395.50 C136.93,394.08 137.52,393.23 138.20,392.60 C138.88,391.97 139.62,391.53 140.40,391.70 C141.18,391.87 142.18,392.67 142.90,393.60 C143.62,394.53 144.08,395.73 144.70,397.30 C145.32,398.87 145.97,400.80 146.60,403.00 C147.23,405.20 147.87,407.83 148.50,410.50 C149.13,413.17 149.77,416.02 150.40,419.00 C151.03,421.98 151.68,425.12 152.30,428.40 C152.92,431.68 153.48,435.27 154.10,438.70 C154.72,442.13 155.37,445.72 156.00,449.00 C156.63,452.28 157.27,455.42 157.90,458.40 C158.53,461.38 159.13,464.23 159.80,466.90 C160.47,469.57 161.25,472.42 161.90,474.40 C162.55,476.38 162.93,478.65 163.70,478.80 C164.47,478.95 165.43,476.20 166.50,475.30 C167.57,474.40 169.02,473.55 170.10,473.40 C171.18,473.25 172.03,473.73 173.00,474.40 C173.97,475.07 174.87,476.42 175.90,477.40 C176.93,478.38 178.22,480.30 179.20,480.30 C180.18,480.30 180.87,478.38 181.80,477.40 C182.73,476.42 183.80,475.10 184.80,474.40 C185.80,473.70 186.87,473.45 187.80,473.20 C188.73,472.95 189.42,472.77 190.40,472.90 C191.38,473.03 192.67,473.50 193.70,474.00 C194.73,474.50 195.62,475.33 196.60,475.90 C197.58,476.47 198.60,477.03 199.60,477.40 C200.60,477.77 201.62,477.95 202.60,478.10 C203.58,478.25 204.52,478.35 205.50,478.30 C206.48,478.25 207.52,478.08 208.50,477.80 C209.48,477.52 210.42,477.22 211.40,476.60 C212.38,475.98 213.40,475.08 214.40,474.10 C215.40,473.12 216.42,471.88 217.40,470.70 C218.38,469.52 219.32,468.10 220.30,467.00 C221.28,465.90 222.32,464.92 223.30,464.10 C224.28,463.28 225.22,462.53 226.20,462.10 C227.18,461.67 228.20,461.42 229.20,461.50 C230.20,461.58 231.22,462.08 232.20,462.60 C233.18,463.12 234.13,463.73 235.10,464.60 C236.07,465.47 237.03,466.53 238.00,467.80 C238.97,469.07 239.92,470.78 240.90,472.20 C241.88,473.62 242.92,475.12 243.90,476.30 C244.88,477.48 245.93,478.60 246.80,479.30 C247.67,480.00 248.23,480.38 249.10,480.50 C249.97,480.62 251.15,480.15 252.00,480.00 C252.85,479.85 253.33,479.60 254.20,479.60 C255.07,479.60 256.33,480.12 257.20,480.00 C258.07,479.88 258.53,479.70 259.40,478.90 C260.27,478.10 261.42,476.57 262.40,475.20 C263.38,473.83 264.32,472.13 265.30,470.70 C266.28,469.27 267.30,467.78 268.30,466.60 C269.30,465.42 270.18,464.35 271.30,463.60 C272.42,462.85 273.90,462.20 275.00,462.10 C276.10,462.00 276.92,462.43 277.90,463.00 C278.88,463.57 279.92,464.33 280.90,465.50 C281.88,466.67 282.82,468.38 283.80,470.00 C284.78,471.62 285.80,473.40 286.80,475.20 C287.80,477.00 288.82,480.68 289.80,480.80 C290.78,480.92 291.72,477.83 292.70,475.90 C293.68,473.97 294.72,471.17 295.70,469.20 C296.68,467.23 297.62,465.52 298.60,464.10 C299.58,462.68 300.70,461.48 301.60,460.70 C302.50,459.92 303.28,459.65 304.00,459.40 C304.72,459.15 305.08,458.98 305.90,459.20 C306.72,459.42 307.92,459.97 308.90,460.70 C309.88,461.43 310.82,462.47 311.80,463.60 C312.78,464.73 313.80,466.12 314.80,467.50 C315.80,468.88 316.82,470.57 317.80,471.90 C318.78,473.23 319.72,474.47 320.70,475.50 C321.68,476.53 322.72,477.48 323.70,478.10 C324.68,478.72 325.37,479.02 326.60,479.20 C327.83,479.38 329.62,479.18 331.10,479.20 C332.58,479.22 334.02,479.17 335.50,479.30 C336.98,479.43 338.52,479.88 340.00,480.00 C341.48,480.12 342.93,480.07 344.40,480.00 C345.87,479.93 347.32,479.62 348.80,479.60 C350.28,479.58 351.93,479.90 353.30,479.90 C354.67,479.90 355.77,479.85 357.00,479.60 C358.23,479.35 359.47,478.75 360.70,478.40 C361.93,478.05 362.95,477.62 364.40,477.50 C365.85,477.38 367.82,477.67 369.40,477.70 C370.98,477.73 372.53,478.00 373.90,477.70 C375.27,477.40 376.37,476.70 377.60,475.90 C378.83,475.10 380.07,473.88 381.30,472.90 C382.53,471.92 383.77,470.75 385.00,470.00 C386.23,469.25 387.40,468.77 388.70,468.40 C390.00,468.03 391.45,467.72 392.80,467.80 C394.15,467.88 395.52,468.28 396.80,468.90 C398.08,469.52 399.27,470.50 400.50,471.50 C401.73,472.50 402.97,473.85 404.20,474.90 C405.43,475.95 406.67,477.02 407.90,477.80 C409.13,478.58 410.37,479.18 411.60,479.60 C412.83,480.02 414.07,480.30 415.30,480.30 C416.53,480.30 417.77,480.02 419.00,479.60 C420.23,479.18 421.47,478.53 422.70,477.80 C423.93,477.07 425.17,476.18 426.40,475.20 C427.63,474.22 428.82,472.97 430.10,471.90 C431.38,470.83 432.92,469.52 434.10,468.80 C435.28,468.08 436.27,467.85 437.20,467.60 C438.13,467.35 438.85,467.27 439.70,467.30 C440.55,467.33 441.37,467.43 442.30,467.80 C443.23,468.17 444.30,468.75 445.30,469.50 C446.30,470.25 447.28,471.23 448.30,472.30 C449.32,473.37 450.47,474.88 451.40,475.90 C452.33,476.92 453.05,477.82 453.90,478.40 C454.75,478.98 455.65,479.43 456.50,479.40 C457.35,479.37 458.17,478.67 459.00,478.20 C459.83,477.73 460.65,477.10 461.50,476.60 C462.35,476.10 463.25,475.63 464.10,475.20 C464.95,474.77 465.67,474.32 466.60,474.00 C467.53,473.68 469.18,473.42 469.70,473.30"/>
<line x1="96.00" y1="43.30" x2="96.00" y2="387.00" class="rl"/>
<line x1="104.50" y1="43.30" x2="104.50" y2="387.00" class="rl"/>
<line x1="143.90" y1="43.30" x2="143.90" y2="387.00" class="rl"/>
<text x="60.50" y="36.80" class="num" text-anchor="middle">0</text>
<text x="60.40" y="503.80" class="num" text-anchor="middle">0</text>
<text x="161.10" y="36.80" class="num" text-anchor="middle">0.5</text>
<text x="161.00" y="503.80" class="num" text-anchor="middle">0.5</text>
<text x="265.50" y="36.80" class="num" text-anchor="middle">1</text>
<text x="265.40" y="503.80" class="num" text-anchor="middle">1</text>
<text x="366.80" y="36.80" class="num" text-anchor="middle">1.5</text>
<text x="366.70" y="503.80" class="num" text-anchor="middle">1.5</text>
<text x="470.90" y="36.80" class="num" text-anchor="middle">2</text>
<text x="470.80" y="503.80" class="num" text-anchor="middle">2</text>
<text x="55.60" y="158.70" class="num" text-anchor="end">0</text>
<text x="51.00" y="129.50" class="num" text-anchor="end" textLength="30.2" lengthAdjust="spacingAndGlyphs">0.002</text>
<text x="51.00" y="100.30" class="num" text-anchor="end" textLength="30.2" lengthAdjust="spacingAndGlyphs">0.004</text>
<text x="51.00" y="71.10" class="num" text-anchor="end" textLength="30.2" lengthAdjust="spacingAndGlyphs">0.006</text>
<text x="55.60" y="273.40" class="num" text-anchor="end">0</text>
<text x="51.00" y="251.50" class="num" text-anchor="end" textLength="30.2" lengthAdjust="spacingAndGlyphs">0.001</text>
<text x="51.00" y="229.60" class="num" text-anchor="end" textLength="30.2" lengthAdjust="spacingAndGlyphs">0.002</text>
<text x="51.00" y="207.70" class="num" text-anchor="end" textLength="30.2" lengthAdjust="spacingAndGlyphs">0.003</text>
<text x="51.00" y="185.80" class="num" text-anchor="end" textLength="30.2" lengthAdjust="spacingAndGlyphs">0.004</text>
<text x="55.60" y="388.40" class="num" text-anchor="end">0</text>
<text x="51.00" y="366.50" class="num" text-anchor="end" textLength="30.2" lengthAdjust="spacingAndGlyphs">0.001</text>
<text x="51.00" y="344.60" class="num" text-anchor="end" textLength="30.2" lengthAdjust="spacingAndGlyphs">0.002</text>
<text x="51.00" y="322.70" class="num" text-anchor="end" textLength="30.2" lengthAdjust="spacingAndGlyphs">0.003</text>
<text x="51.00" y="300.80" class="num" text-anchor="end" textLength="30.2" lengthAdjust="spacingAndGlyphs">0.004</text>
<text x="55.60" y="487.90" class="num" text-anchor="end">0</text>
<text x="51.00" y="455.20" class="num" text-anchor="end">0.2</text>
<text x="51.00" y="422.50" class="num" text-anchor="end">0.4</text>
<text transform="translate(187.10,9.90) scale(1.246,1)" x="0" y="0" class="ser" style="font-size:14.50px" fill="#1a1a1a" textLength="42.69" lengthAdjust="spacing">Fourier</text>
<text transform="translate(247.50,9.90) scale(1.268,1)" x="0" y="0" class="ser" style="font-size:14.50px" fill="#1a1a1a" textLength="37.86" lengthAdjust="spacing">Period</text>
<text transform="translate(301.90,9.90) scale(1.280,1)" x="0" y="0" class="ser" style="font-size:14.50px" fill="#1a1a1a" textLength="40.00" lengthAdjust="spacing">Search</text>
<text transform="translate(153.10,524.00) scale(1.279,1)" x="0" y="0" class="ser" style="font-size:14.00px" fill="#1a1a1a" textLength="59.09" lengthAdjust="spacing">Frequency</text>
<text transform="translate(236.50,524.00) scale(1.278,1)" x="0" y="0" class="ser" style="font-size:14.00px" fill="#1a1a1a" textLength="24.88" lengthAdjust="spacing">(day</text>
<text transform="translate(268.40,517.60) scale(1.232,1)" x="0" y="0" class="ser" style="font-size:9.00px" fill="#1a1a1a" textLength="9.58" lengthAdjust="spacing">&#8722;1</text>
<text transform="translate(281.30,524.00) scale(0.815,1)" x="0" y="0" class="ser" style="font-size:14.00px" fill="#1a1a1a" textLength="4.66" lengthAdjust="spacing">)</text>
<text transform="translate(291.70,524.00) scale(1.280,1)" x="0" y="0" class="ser" style="font-size:14.00px" fill="#1a1a1a" textLength="11.72" lengthAdjust="spacing">=</text>
<text transform="translate(311.40,524.00) scale(1.280,1)" x="0" y="0" class="ser" style="font-size:14.00px" fill="#1a1a1a" textLength="51.17" lengthAdjust="spacing">1/Period</text>
<text transform="translate(368.00,79.60) scale(1.205,1)" x="0" y="0" class="ser" style="font-size:14.50px" fill="#1a1a1a" textLength="21.74" lengthAdjust="spacing">raw</text>
<text transform="translate(367.70,180.10) scale(1.280,1)" x="0" y="0" class="ser" style="font-size:14.80px" fill="#1a1a1a" textLength="46.95" lengthAdjust="spacing">residual</text>
<text transform="translate(367.70,295.10) scale(1.280,1)" x="0" y="0" class="ser" style="font-size:14.80px" fill="#1a1a1a" textLength="46.95" lengthAdjust="spacing">residual</text>
<text transform="translate(9.70,136.70) rotate(-90) scale(1.234,1)" x="0" y="0" class="ser" style="font-size:14.00px" fill="#1a1a1a" textLength="59.88" lengthAdjust="spacing">Amplitude</text>
<text transform="translate(9.70,252.00) rotate(-90) scale(1.254,1)" x="0" y="0" class="ser" style="font-size:14.00px" fill="#1a1a1a" textLength="59.88" lengthAdjust="spacing">Amplitude</text>
<text transform="translate(9.90,378.20) rotate(-90) scale(1.280,1)" x="0" y="0" class="ser" style="font-size:14.00px" fill="#1a1a1a" textLength="76.41" lengthAdjust="spacing">Prewhitening</text>
<text transform="translate(23.60,478.30) rotate(-90) scale(1.209,1)" x="0" y="0" class="ser" style="font-size:14.00px" fill="#1a1a1a" textLength="18.29" lengthAdjust="spacing">Sp.</text>
<text transform="translate(23.60,447.90) rotate(-90) scale(1.083,1)" x="0" y="0" class="ser" style="font-size:14.00px" fill="#1a1a1a" textLength="47.65" lengthAdjust="spacing">Window</text>
<text transform="translate(92.90,326.00) rotate(-90) scale(1.280,1)" x="0" y="0" class="ser" style="font-size:13.20px" fill="#ee1c1c" textLength="36.09" lengthAdjust="spacing">binary</text>
<text transform="translate(117.60,316.10) rotate(-90) scale(0.938,1)" x="0" y="0" class="ser" style="font-size:14.00px" fill="#ee1c1c" textLength="38.90" lengthAdjust="spacing">MOST</text>
<text transform="translate(141.30,316.10) rotate(-90) scale(0.938,1)" x="0" y="0" class="ser" style="font-size:14.00px" fill="#ee1c1c" textLength="38.90" lengthAdjust="spacing">MOST</text>
<text transform="translate(106.20,223.40) rotate(-90) scale(1.000,1)" x="0" y="0" class="gnum" style="font-size:10.00px" fill="#58bc4a" textLength="26.50" lengthAdjust="spacing">4.78d</text>
<text transform="translate(164.60,371.70) rotate(-90) scale(1.000,1)" x="0" y="0" class="gnum" style="font-size:10.00px" fill="#58bc4a" textLength="26.60" lengthAdjust="spacing">2.04d</text>
<path class="ga" d="M103.4,192.2V178.3M98.6,186.4L103.4,178.3L108.2,186.4"/>
<path class="ga" d="M160.5,336.1V321.6M155.3,329.8L160.5,321.6L165.7,329.8"/>
</svg>
</body></html>
